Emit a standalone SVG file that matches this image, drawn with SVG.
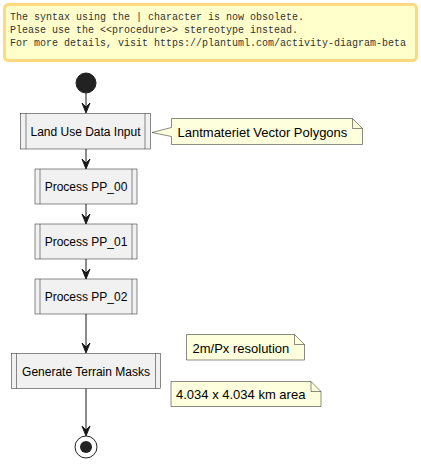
<svg xmlns="http://www.w3.org/2000/svg" width="421" height="469" viewBox="0 0 421 469">
<defs>
<style>
.warn{fill:#FFFFCC;stroke:#FFD97F;stroke-width:3}
.wt{font-family:"Liberation Mono",monospace;font-size:10px;fill:#333333}
.box{fill:#F1F1F1;stroke:#181818;stroke-width:0.5}
.bl{stroke:#181818;stroke-width:0.5;fill:none}
.bt{font-family:"Liberation Sans",Arial,sans-serif;font-size:12px;fill:#000000;text-anchor:middle}
.note{fill:#FEFFDD;stroke:#181818;stroke-width:0.5}
.nt{font-family:"Liberation Sans",Arial,sans-serif;font-size:13px;fill:#000000}
.edge{stroke:#181818;stroke-width:1;fill:none}
.head{fill:#181818;stroke:#181818;stroke-width:1}
</style>
</defs>
<g id="warning">
<rect class="warn" x="4.5" y="4.5" width="412" height="56" rx="4"/>
<text class="wt" x="10" y="20">The syntax using the | character is now obsolete.</text>
<text class="wt" x="10" y="33">Please use the &lt;&lt;procedure&gt;&gt; stereotype instead.</text>
<text class="wt" x="10" y="46">For more details, visit https://plantuml.com/activity-diagram-beta</text>
</g>
<g id="connectors">
<line class="edge" x1="86" y1="93" x2="86" y2="111"/>
<polygon class="head" points="86,113 82,103 86,107 90,103"/>
<line class="edge" x1="86" y1="149" x2="86" y2="167"/>
<polygon class="head" points="86,169 82,159 86,163 90,159"/>
<line class="edge" x1="86" y1="204" x2="86" y2="222"/>
<polygon class="head" points="86,224 82,214 86,218 90,214"/>
<line class="edge" x1="86" y1="259" x2="86" y2="277"/>
<polygon class="head" points="86,279 82,269 86,273 90,269"/>
<line class="edge" x1="86" y1="314" x2="86" y2="351"/>
<polygon class="head" points="86,353 82,343 86,347 90,343"/>
<line class="edge" x1="86" y1="388" x2="86" y2="434"/>
<polygon class="head" points="86,436 82,426 86,430 90,426"/>
</g>
<g id="start">
<circle cx="86" cy="83" r="10" fill="#222222" stroke="#222222" stroke-width="1"/>
</g>
<g id="land-use-data-input">
<rect class="box" x="20.5" y="113.5" width="130" height="35.5"/>
<line class="bl" x1="26" y1="113.5" x2="26" y2="149"/>
<line class="bl" x1="145" y1="113.5" x2="145" y2="149"/>
<text class="bt" x="85.5" y="135.5">Land Use Data Input</text>
</g>
<g id="note-lantmateriet">
<path class="note" d="M171.5,118.5 L352.5,118.5 L362.5,128.5 L362.5,144.5 L171.5,144.5 L171.5,136.5 L152,132.5 L171.5,127.5 Z"/>
<path class="bl" d="M352.5,118.5 L352.5,128.5 L362.5,128.5"/>
<text class="nt" x="177.5" y="136.5">Lantmateriet Vector Polygons</text>
</g>
<g id="process-pp00">
<rect class="box" x="35" y="169" width="102" height="35"/>
<line class="bl" x1="40" y1="169" x2="40" y2="204"/>
<line class="bl" x1="132" y1="169" x2="132" y2="204"/>
<text class="bt" x="86" y="191">Process PP_00</text>
</g>
<g id="process-pp01">
<rect class="box" x="35" y="224" width="102" height="35"/>
<line class="bl" x1="40" y1="224" x2="40" y2="259"/>
<line class="bl" x1="132" y1="224" x2="132" y2="259"/>
<text class="bt" x="86" y="246">Process PP_01</text>
</g>
<g id="process-pp02">
<rect class="box" x="35" y="279" width="102" height="35"/>
<line class="bl" x1="40" y1="279" x2="40" y2="314"/>
<line class="bl" x1="132" y1="279" x2="132" y2="314"/>
<text class="bt" x="86" y="301">Process PP_02</text>
</g>
<g id="generate-terrain-masks">
<rect class="box" x="11.5" y="353.5" width="149" height="35"/>
<line class="bl" x1="16.5" y1="353.5" x2="16.5" y2="388.5"/>
<line class="bl" x1="155.5" y1="353.5" x2="155.5" y2="388.5"/>
<text class="bt" x="86" y="375.5">Generate Terrain Masks</text>
</g>
<g id="note-resolution">
<path class="note" d="M186.5,334.5 L294.5,334.5 L304.5,344.5 L304.5,360 L186.5,360 Z"/>
<path class="bl" d="M294.5,334.5 L294.5,344.5 L304.5,344.5"/>
<text class="nt" x="192.5" y="352.5">2m/Px resolution</text>
</g>
<g id="note-area">
<path class="note" d="M171,381.5 L311,381.5 L321,391.5 L321,406.5 L171,406.5 Z"/>
<path class="bl" d="M311,381.5 L311,391.5 L321,391.5"/>
<text class="nt" x="176" y="399">4.034 x 4.034 km area</text>
</g>
<g id="end">
<circle cx="86" cy="447" r="11" fill="none" stroke="#222222" stroke-width="1"/>
<circle cx="86" cy="447" r="6" fill="#222222"/>
</g>
</svg>
